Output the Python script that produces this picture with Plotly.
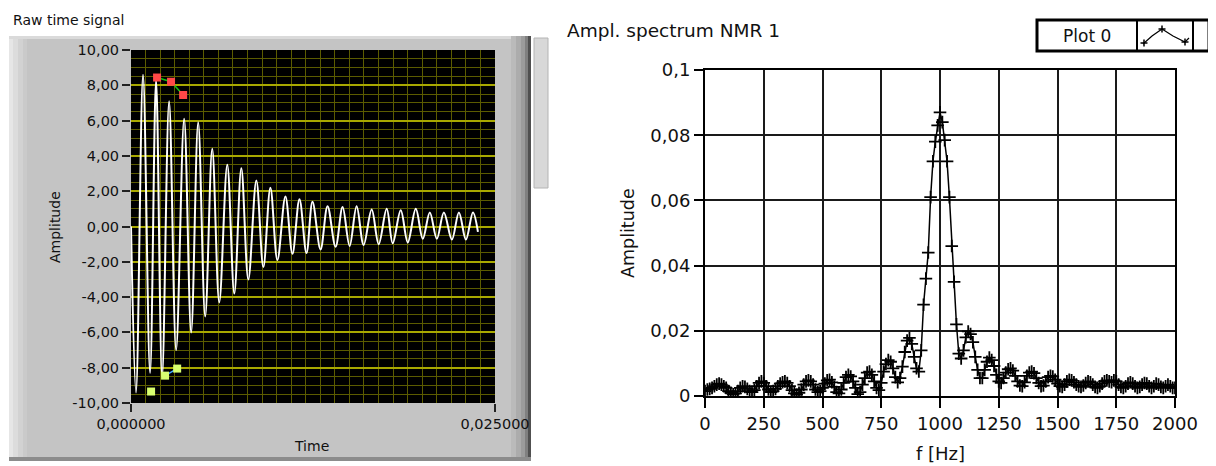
import plotly.graph_objects as go

# page body has an 8 px margin: the figure is drawn at (8, 8)
OFF = 8
W, H = 1216 - OFF, 466 - OFF

# ---------------- data: raw time signal (extrema) ----------------
time_s = [0.0, 0.000344, 0.000826, 0.001309, 0.001722, 0.002135, 0.002617, 0.003099, 0.003650, 0.004132,
          0.004614, 0.005096, 0.005579, 0.006061, 0.006612, 0.007094, 0.007576, 0.008058, 0.008609, 0.009091,
          0.009573, 0.010055, 0.010606, 0.011088, 0.011570, 0.012052, 0.012466, 0.013017, 0.013499, 0.014050,
          0.014532, 0.015014, 0.015496, 0.015978, 0.016529, 0.017011, 0.017562, 0.017975, 0.018526, 0.019008,
          0.019559, 0.020041, 0.020523, 0.021006, 0.021488, 0.022039, 0.022521, 0.023003, 0.023485, 0.023829]
signal_v = [0.0, -9.4, 8.6, -8.3, 8.3, -8.5, 7.1, -7.0, 6.1, -6.0,
            5.9, -5.1, 4.4, -4.3, 3.5, -3.8, 3.3, -3.0, 2.6, -2.3,
            2.2, -1.9, 1.7, -1.55, 1.55, -1.5, 1.4, -1.3, 1.15, -1.15,
            1.1, -1.1, 1.15, -1.05, 0.96, -1.0, 1.0, -0.95, 0.92, -0.9,
            1.0, -0.7, 0.8, -0.7, 0.8, -0.74, 0.8, -0.74, 0.8, -0.3]

# cursor / marker plots on the time graph
upper_t = [0.00179, 0.00275, 0.00358]
upper_v = [8.44, 8.2, 7.45]
lower_t = [0.00138, 0.00234, 0.00317]
lower_v = [-9.35, -8.45, -8.05]

# ---------------- data: amplitude spectrum (0..2000 Hz, 10 Hz steps) ----------------
freq_start = 0
freq_step = 10
spectrum = [
    0.0015, 0.002, 0.0022, 0.0025, 0.003, 0.0035, 0.0038, 0.0035, 0.003, 0.0025,
    0.0015, 0.001, 0.0005, 0.0008, 0.0015, 0.0025, 0.003, 0.0028, 0.0022, 0.0015,
    0.0012, 0.0018, 0.003, 0.004, 0.0045, 0.004, 0.003, 0.002, 0.0012, 0.0015,
    0.0022, 0.003, 0.0038, 0.0042, 0.0045, 0.004, 0.003, 0.0018, 0.0008, 0.0004,
    0.001, 0.002, 0.0035, 0.0045, 0.0048, 0.0045, 0.0035, 0.002, 0.0012, 0.0015,
    0.0025, 0.0038, 0.0048, 0.005, 0.0042, 0.0028, 0.0012, 0.0008, 0.002, 0.004,
    0.0058, 0.0065, 0.006, 0.0045, 0.0025, 0.0006, 0.0012, 0.0035, 0.0055, 0.0072,
    0.0075, 0.0065, 0.0045, 0.0025, 0.0018, 0.004, 0.0075, 0.0098, 0.011, 0.0105,
    0.0085, 0.0058, 0.0042, 0.0055, 0.009, 0.0135, 0.017, 0.0178, 0.016, 0.012,
    0.0085, 0.0075, 0.014, 0.028, 0.036, 0.044, 0.061, 0.072, 0.078, 0.083,
    0.087, 0.084, 0.0785, 0.072, 0.061, 0.046, 0.035, 0.022, 0.013, 0.0115,
    0.014, 0.018, 0.0198, 0.019, 0.0165, 0.012, 0.008, 0.0055, 0.0055, 0.008,
    0.0105, 0.0118, 0.011, 0.0092, 0.0065, 0.0045, 0.004, 0.0055, 0.0072, 0.0082,
    0.0085, 0.0078, 0.0062, 0.0045, 0.0032, 0.003, 0.0042, 0.0062, 0.0072, 0.0075,
    0.007, 0.0055, 0.004, 0.003, 0.0032, 0.0045, 0.0058, 0.0062, 0.006, 0.005,
    0.0038, 0.003, 0.0028, 0.0035, 0.0045, 0.005, 0.0048, 0.0042, 0.0035, 0.003,
    0.0028, 0.0032, 0.004, 0.0045, 0.0042, 0.0035, 0.0028, 0.0025, 0.003, 0.0038,
    0.0045, 0.0048, 0.0045, 0.0042, 0.0048, 0.0045, 0.0035, 0.0028, 0.0025, 0.003,
    0.0038, 0.0042, 0.0038, 0.003, 0.0025, 0.0028, 0.0035, 0.004, 0.0038, 0.003,
    0.0025, 0.003, 0.0038, 0.0035, 0.0028, 0.0025, 0.003, 0.0035, 0.003, 0.0025,
    0.0025]

# ---------------- tick labels ----------------
left_y_ticks = [10, 8, 6, 4, 2, 0, -2, -4, -6, -8, -10]
left_y_labels = ["10,00", "8,00", "6,00", "4,00", "2,00", "0,00", "-2,00", "-4,00", "-6,00", "-8,00", "-10,00"]
left_x_ticks = [0.0, 0.025]
left_x_labels = ["0,000000", "0,025000"]
right_y_ticks = [0, 0.02, 0.04, 0.06, 0.08, 0.1]
right_y_labels = ["0", "0,02", "0,04", "0,06", "0,08", "0,1"]
right_x_ticks = [0, 250, 500, 750, 1000, 1250, 1500, 1750, 2000]
right_x_labels = ["0", "250", "500", "750", "1000", "1250", "1500", "1750", "2000"]

FONT = "DejaVu Sans"
BRIGHT = "#a8a800"
DIM = "#5c5c00"


def px(x):
    return (x - OFF) / W


def py(y):
    return 1 - (y - OFF) / H


fig = go.Figure()

fig.add_trace(go.Scatter(x=time_s, y=signal_v, mode="lines",
                         line=dict(color="white", width=2, shape="spline", smoothing=1.0),
                         xaxis="x", yaxis="y", showlegend=False, hoverinfo="skip"))
fig.add_trace(go.Scatter(x=upper_t, y=upper_v, mode="lines+markers",
                         line=dict(color="#10c010", width=1.5),
                         marker=dict(symbol="square", size=8, color="#ff4848"),
                         xaxis="x", yaxis="y", showlegend=False))
fig.add_trace(go.Scatter(x=lower_t[1:], y=lower_v[1:], mode="lines",
                         line=dict(color="#40a8ff", width=1.5),
                         xaxis="x", yaxis="y", showlegend=False))
fig.add_trace(go.Scatter(x=lower_t, y=lower_v, mode="markers",
                         marker=dict(symbol="square", size=8, color="#d8ff70"),
                         xaxis="x", yaxis="y", showlegend=False))

fig.add_trace(go.Scatter(x0=freq_start, dx=freq_step, y=spectrum, mode="lines+markers",
                         line=dict(color="black", width=1.5),
                         marker=dict(symbol="cross-thin", size=9, color="black",
                                     line=dict(color="black", width=1.8)),
                         xaxis="x2", yaxis="y2", showlegend=False))

shapes = []


def rect(x0, y0, x1, y1, fill, line_color=None, lw=0):
    shapes.append(dict(type="rect", xref="paper", yref="paper",
                       x0=px(x0), x1=px(x1), y0=py(y1), y1=py(y0),
                       fillcolor=fill, line=dict(color=line_color or fill, width=lw), layer="below"))


# left gray panel with bevel
rect(9, 36, 531, 461, "#c4c4c4")
for (a, b, c) in [(9, 13, "#e6e6e6"), (13, 18, "#dcdcdc"), (18, 23, "#d2d2d2"), (23, 27, "#cacaca")]:
    rect(a, 36, b, 461, c)
rect(9, 36, 531, 39, "#dadada")
for (a, b, c) in [(511, 516, "#bababa"), (516, 521, "#acacac"), (521, 525, "#9c9c9c"),
                  (525, 528, "#808080"), (528, 531, "#505050")]:
    rect(a, 36, b, 461, c)
rect(9, 457, 531, 461, "#8c8c8c")
# scrollbar stub
rect(534, 38, 548, 188, "#d8d8d8", "#b4b4b4", 1)

# black plotting area of the time graph
shapes.append(dict(type="rect", xref="x", yref="y", x0=0, x1=0.025, y0=-10, y1=10,
                   fillcolor="black", line=dict(width=0), layer="below"))
# white plotting area for spectrum
shapes.append(dict(type="rect", xref="x2", yref="y2", x0=0, x1=2000, y0=0, y1=0.1,
                   fillcolor="white", line=dict(width=0), layer="below"))

# legend box "Plot 0"
shapes.append(dict(type="rect", xref="paper", yref="paper", x0=px(1037), x1=px(1209), y0=py(51), y1=py(20),
                   fillcolor="white", line=dict(color="black", width=3), layer="above"))
for xl in (1137, 1193):
    shapes.append(dict(type="line", xref="paper", yref="paper", x0=px(xl), x1=px(xl), y0=py(51), y1=py(20),
                       line=dict(color="black", width=2), layer="above"))


def path(points):
    s = "M " + " L ".join(f"{px(x):.5f},{py(y):.5f}" for x, y in points)
    return s


shapes.append(dict(type="path", xref="paper", yref="paper",
                   path=path([(1143, 44), (1152, 36), (1162, 29), (1173, 36), (1185, 42), (1189, 38)]),
                   line=dict(color="black", width=1.2), layer="above"))
for cx, cy in [(1162, 29), (1185, 42), (1144, 43)]:
    shapes.append(dict(type="path", xref="paper", yref="paper",
                       path=path([(cx - 3.5, cy), (cx + 3.5, cy)]) + " " +
                            path([(cx, cy - 3.5), (cx, cy + 3.5)]),
                       line=dict(color="black", width=1.5), layer="above"))

annotations = [
    dict(text="Raw time signal", x=px(11), y=py(20), xanchor="left", yanchor="middle",
         font=dict(family=FONT, size=14, color="#111")),
    dict(text="Amplitude", x=px(55), y=py(227), textangle=-90, xanchor="center", yanchor="middle",
         font=dict(family=FONT, size=14, color="#111")),
    dict(text="Time", x=px(311), y=py(446), xanchor="center", yanchor="middle",
         font=dict(family=FONT, size=14, color="#111")),
    dict(text="Ampl. spectrum NMR 1", x=px(565), y=py(31), xanchor="left", yanchor="middle",
         font=dict(family=FONT, size=18.5, color="#111")),
    dict(text="Amplitude", x=px(628), y=py(233), textangle=-90, xanchor="center", yanchor="middle",
         font=dict(family=FONT, size=17.5, color="#111")),
    dict(text="f [Hz]", x=px(940), y=py(453), xanchor="center", yanchor="middle",
         font=dict(family=FONT, size=18, color="#111")),
    dict(text="Plot 0", x=px(1087), y=py(36), xanchor="center", yanchor="middle",
         font=dict(family=FONT, size=17, color="#111")),
]
for a in annotations:
    a.update(xref="paper", yref="paper", showarrow=False)

fig.update_layout(
    width=W, height=H, autosize=False,
    margin=dict(l=0, r=0, t=0, b=0, pad=0, autoexpand=False),
    paper_bgcolor="white", plot_bgcolor="rgba(0,0,0,0)",
    showlegend=False,
    shapes=shapes, annotations=annotations,
    xaxis=dict(domain=[px(131), px(495)], range=[0, 0.025], anchor="y", automargin=False,
               tickmode="array", tickvals=left_x_ticks, ticktext=left_x_labels,
               ticks="outside", ticklen=8, tickwidth=1.5, tickcolor="#222",
               showgrid=False, zeroline=False, showline=False,
               tickfont=dict(family=FONT, size=14.5, color="#111"),
               minor=dict(tickmode="linear", tick0=0, dtick=0.001, showgrid=True,
                          gridcolor=DIM, gridwidth=1, ticks="")),
    yaxis=dict(domain=[py(403), py(50)], range=[-10, 10], anchor="x", automargin=False,
               tickmode="array", tickvals=left_y_ticks, ticktext=left_y_labels,
               ticks="outside", ticklen=8, tickwidth=1.5, tickcolor="#222",
               showgrid=True, gridcolor=BRIGHT, gridwidth=1.5, zeroline=False, showline=False,
               tickfont=dict(family=FONT, size=14.5, color="#111"),
               minor=dict(tickmode="linear", tick0=0, dtick=0.5, showgrid=True,
                          gridcolor=DIM, gridwidth=1, ticks="")),
    xaxis2=dict(domain=[px(705), px(1175)], range=[0, 2000], anchor="y2", automargin=False,
                tickmode="array", tickvals=right_x_ticks, ticktext=right_x_labels,
                ticks="outside", ticklen=10, tickwidth=2, tickcolor="black",
                showgrid=True, gridcolor="#1a1a1a", gridwidth=2, zeroline=False,
                showline=True, linecolor="black", linewidth=2, mirror=True,
                tickfont=dict(family=FONT, size=18, color="#111")),
    yaxis2=dict(domain=[py(396), py(70)], range=[0, 0.1], anchor="x2", automargin=False,
                tickmode="array", tickvals=right_y_ticks, ticktext=right_y_labels,
                ticks="outside", ticklen=9, tickwidth=2, tickcolor="black",
                showgrid=True, gridcolor="#1a1a1a", gridwidth=2, zeroline=False,
                showline=True, linecolor="black", linewidth=2, mirror=True,
                tickfont=dict(family=FONT, size=18, color="#111")),
)

fig.write_html("out.html")
